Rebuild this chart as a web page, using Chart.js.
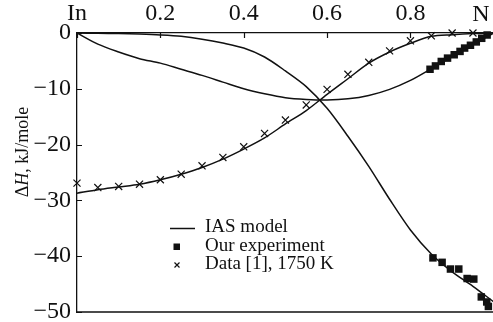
<!DOCTYPE html>
<html>
<head>
<meta charset="utf-8">
<script src="https://cdn.jsdelivr.net/npm/chart.js@4.4.1/dist/chart.umd.min.js"></script>
<style>
  html, body { margin: 0; padding: 0; background: #fff; overflow: hidden; }
  #wrap { width: 500px; height: 322px; }
</style>
</head>
<body>
<div id="wrap"><canvas id="enthalpyChart" width="500" height="322"></canvas></div>
<script>
// composition grid for the model curves (mole fraction of N)
const gridX = [0, 0.05, 0.1, 0.15, 0.2, 0.25, 0.3, 0.35, 0.4, 0.45, 0.5,
               0.55, 0.6, 0.65, 0.7, 0.75, 0.8, 0.85, 0.9, 0.95, 1];

// IAS model, three branches
const modelA = [0, -0.05, -0.1, -0.2, -0.35, -0.6, -1.1, -1.8, -2.7, -4.3, -6.8,
                -9.6, -13.5, -18.5, -23.9, -29.8, -35.3, -39.6, -42.8, -45.4, -48.2];
const modelB = [0, -2.0, -3.4, -4.6, -5.4, -6.5, -7.6, -8.8, -10.0, -10.9, -11.6,
                -11.9, -12.0, -11.8, -11.2, -10.1, -8.5, -6.4, -4.2, -2.0, 0];
const modelC = [-28.7, -28.1, -27.6, -27.1, -26.3, -25.3, -24.1, -22.6, -20.8, -18.8, -16.3,
                -13.9, -11.0, -8.2, -5.4, -3.4, -1.85, -0.6, -0.3, -0.1, 0];

// our experiment
const expX = [0.847, 0.860, 0.874, 0.889, 0.905, 0.919, 0.930, 0.944, 0.958, 0.971, 0.984,
              0.854, 0.876, 0.896, 0.916, 0.936, 0.952, 0.970, 0.983, 0.987];
const expY = [-6.5, -5.9, -5.1, -4.5, -3.9, -3.3, -2.7, -2.2, -1.6, -0.95, -0.36,
              -40.3, -41.1, -42.3, -42.3, -44.0, -44.1, -47.3, -48.2, -49.0];

// Data [1], 1750 K
const refX = [0, 0.05, 0.1, 0.15, 0.2, 0.25, 0.3, 0.35, 0.4, 0.45,
              0.5, 0.55, 0.6, 0.65, 0.7, 0.75, 0.8, 0.85, 0.9, 0.95];
const refY = [-26.9, -27.7, -27.5, -27.1, -26.3, -25.3, -23.8, -22.3, -20.4, -18.0,
              -15.6, -12.9, -10.1, -7.4, -5.25, -3.2, -1.4, -0.5, 0, 0];

const xTicks = [0, 0.2, 0.4, 0.6, 0.8, 1];
const xTickText = ['In', '0.2', '0.4', '0.6', '0.8', 'N'];
const legendText = ['IAS model', 'Our experiment', 'Data [1], 1750 K'];

const serif = 'Liberation Serif, Times New Roman, serif';
const pairs = (xs, ys) => xs.map((x, i) => ({ x: x, y: ys[i] }));

const curve = (ys) => ({
  data: pairs(gridX, ys),
  showLine: true,
  borderColor: '#111',
  borderWidth: 1.5,
  pointRadius: 0,
  tension: 0.3
});

// y axis title with italic H
const yTitle = {
  id: 'yTitle',
  afterDraw(chart) {
    const ctx = chart.ctx;
    const parts = [['Δ', ''], ['H', 'italic '], [', kJ/mole', '']];
    ctx.save();
    ctx.translate(23, 152);
    ctx.rotate(-Math.PI / 2);
    ctx.fillStyle = '#111';
    ctx.textBaseline = 'middle';
    let total = 0;
    parts.forEach(p => { ctx.font = p[1] + '18px ' + serif; total += ctx.measureText(p[0]).width; });
    let x = -total / 2;
    parts.forEach(p => {
      ctx.font = p[1] + '18px ' + serif;
      ctx.fillText(p[0], x, 0);
      x += ctx.measureText(p[0]).width;
    });
    ctx.restore();
  }
};

// inward tick marks, frame, the N label and the legend
const extras = {
  id: 'extras',
  afterDraw(chart) {
    const ctx = chart.ctx;
    const a = chart.chartArea;
    const xs = chart.scales.x, ys = chart.scales.y;
    ctx.save();
    ctx.strokeStyle = '#111';
    ctx.lineWidth = 1.3;
    ctx.beginPath();
    ctx.moveTo(a.left, a.bottom);
    ctx.lineTo(a.right, a.bottom);
    ctx.lineTo(a.right, a.top);
    ctx.stroke();

    ctx.lineWidth = 1.2;
    ctx.beginPath();
    xs.ticks.forEach(t => {
      const px = Math.round(xs.getPixelForValue(t.value)) + 0.5;
      ctx.moveTo(px, a.top);
      ctx.lineTo(px, a.top + 5);
    });
    ys.ticks.forEach(t => {
      const py = Math.round(ys.getPixelForValue(t.value)) + 0.5;
      ctx.moveTo(a.left, py);
      ctx.lineTo(a.left + 5, py);
    });
    ctx.stroke();

    ctx.fillStyle = '#111';
    ctx.font = '24px ' + serif;
    ctx.textAlign = 'center';
    ctx.textBaseline = 'alphabetic';
    ctx.fillText(xTickText[5], xs.getPixelForValue(1) - 13, 21);

    // legend
    ctx.font = '19px ' + serif;
    ctx.textAlign = 'left';
    const rows = [232, 251, 269];
    ctx.lineWidth = 1.5;
    ctx.beginPath();
    ctx.moveTo(170, rows[0] - 3.5);
    ctx.lineTo(195, rows[0] - 3.5);
    ctx.stroke();
    ctx.fillRect(173.5, rows[1] - 7.5, 6.5, 6.5);
    ctx.lineWidth = 1.2;
    ctx.beginPath();
    ctx.moveTo(174.5, rows[2] - 6.5); ctx.lineTo(179.5, rows[2] - 1.5);
    ctx.moveTo(179.5, rows[2] - 6.5); ctx.lineTo(174.5, rows[2] - 1.5);
    ctx.stroke();
    legendText.forEach((t, i) => ctx.fillText(t, 205, rows[i]));
    ctx.restore();
  }
};

// fixed axis sizes, no extra room for overhanging labels
const fixBox = (w, h) => s => {
  if (w !== null) s.width = w;
  if (h !== null) s.height = h;
  s.paddingTop = 0; s.paddingBottom = 0;
  s.paddingLeft = 0; s.paddingRight = 0;
};

new Chart(document.getElementById('enthalpyChart'), {
  type: 'scatter',
  data: {
    datasets: [
      curve(modelA),
      curve(modelB),
      curve(modelC),
      {
        data: pairs(expX, expY),
        pointStyle: 'rect',
        pointRadius: 5.3,
        backgroundColor: '#111',
        borderWidth: 0,
        clip: false
      },
      {
        data: pairs(refX, refY),
        pointStyle: 'crossRot',
        pointRadius: 5,
        borderColor: '#111',
        borderWidth: 1.2,
        clip: false
      }
    ]
  },
  options: {
    responsive: false,
    animation: false,
    devicePixelRatio: 1,
    layout: { padding: { left: 0, right: 4, top: 0, bottom: 10 } },
    plugins: { legend: { display: false }, tooltip: { enabled: false } },
    scales: {
      x: {
        type: 'linear',
        position: 'top',
        min: 0,
        max: 1,
        afterFit: fixBox(null, 33),
        afterBuildTicks: s => { s.ticks = xTicks.map(v => ({ value: v })); },
        ticks: {
          color: '#111',
          font: { family: serif, size: 24 },
          padding: 5,
          maxRotation: 0,
          callback: v => (v === 1 ? '' : xTickText[xTicks.indexOf(v)])
        },
        grid: { drawOnChartArea: false, drawTicks: false },
        border: { color: '#111', width: 1.3 }
      },
      y: {
        min: -50,
        max: 0,
        afterFit: fixBox(77, null),
        ticks: {
          stepSize: 5,
          color: '#111',
          font: { family: serif, size: 24 },
          padding: 6,
          callback: v => (v % 10 !== 0 ? '' : (v < 0 ? '\u2212' + (-v) : '0'))
        },
        grid: { drawOnChartArea: false, drawTicks: false },
        border: { color: '#111', width: 1.3 }
      }
    }
  },
  plugins: [yTitle, extras]
});
</script>
</body>
</html>
